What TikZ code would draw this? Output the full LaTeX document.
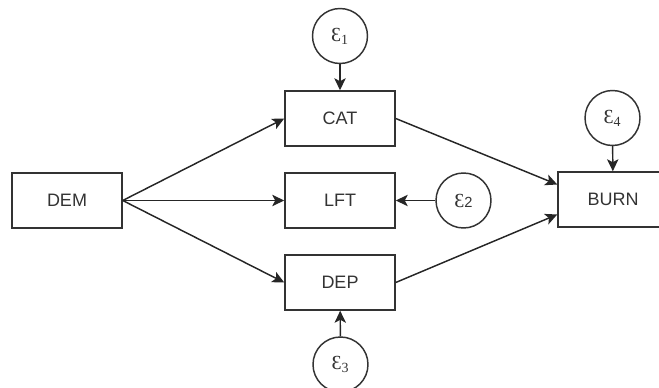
\documentclass[tikz,border=0pt]{standalone}
\usepackage{fontspec}
\setmainfont{Liberation Sans}
\newfontfamily\epsfont{Liberation Serif}
\usetikzlibrary{arrows.meta}
\tikzset{
  var/.style={draw=black!80, line width=1.1pt, minimum width=82.5pt, minimum height=41.25pt,
    inner sep=0pt, text=black!80, font=\fontsize{13.5}{16}\selectfont},
  err/.style={draw=black!80, circle, line width=1.1pt, minimum size=41.25pt, inner sep=0pt,
    text=black!80, font=\epsfont\fontsize{15}{17}\selectfont},
  arr/.style={draw=black!85, line width=1.1pt, -{Stealth[length=9pt,width=8.5pt,inset=2.2pt]}}
}
\newcommand{\epsi}[1]{Ɛ\textsubscript{#1}}

\begin{document}
\begin{tikzpicture}[x=0.75pt,y=-0.75pt]
\useasboundingbox (0,0) rectangle (659,388);
\clip (0,0) rectangle (659,388);
\node[var] (dem) at (67,200.5) {DEM};
\node[var] (cat) at (340,118.5) {CAT};
\node[var] (lft) at (340,200.5) {LFT};
\node[var] (dep) at (340,282.5) {DEP};
\node[var] (burn) at (613,199.5) {BURN};
\node[err] (e1) at (340,36) {\epsi{1}};
\node[err] (e2) at (463.5,200.5) {Ɛ{\rmfamily\fontsize{11}{13}\selectfont 2}};
\node[err] (e3) at (340.5,364.5) {\epsi{3}};
\node[err] (e4) at (612.5,118) {\epsi{4}};
\draw[arr] (dem.east) -- (cat.west);
\draw[arr] (dem.east) -- (lft.west);
\draw[arr] (dem.east) -- (dep.west);
\draw[arr] (cat.east) -- ([yshift=11.25pt]burn.west);
\draw[arr] (dep.east) -- ([yshift=-11.25pt]burn.west);
\draw[arr] (e1) -- (cat);
\draw[arr] (e2) -- (lft);
\draw[arr] (e3) -- (dep);
\draw[arr] (e4) -- (burn);
\end{tikzpicture}
\end{document}
